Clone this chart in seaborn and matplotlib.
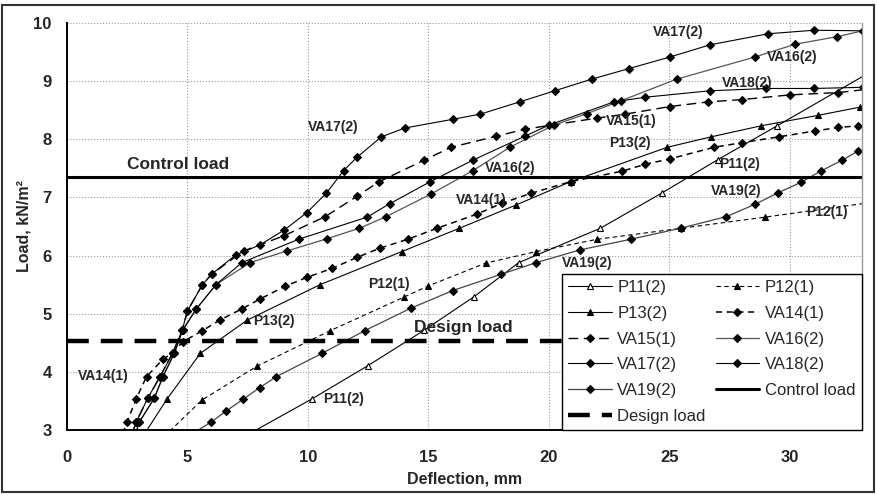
"""Load-deflection curves of the test panels, with control and design load levels."""

import matplotlib
matplotlib.use("Agg")
import matplotlib.pyplot as plt
from matplotlib.patches import Rectangle
import seaborn as sns

# deflection (mm) / load (kN/m2)
P11_X = [7.0, 10.17, 12.49, 14.83, 16.88, 18.75, 22.14, 24.71, 27.02, 29.48, 34.0]
P11_Y = [2.81, 3.54, 4.11, 4.72, 5.29, 5.88, 6.47, 7.08, 7.65, 8.23, 9.31]

P12_X = [3.8, 5.6, 7.88, 10.92, 14.0, 15.0, 17.37, 19.48, 22.0, 25.5, 28.96, 33.5]
P12_Y = [2.8, 3.52, 4.10, 4.71, 5.29, 5.48, 5.87, 6.07, 6.28, 6.47, 6.66, 6.92]

P13_X = [3.0, 4.14, 5.53, 7.47, 10.5, 13.9, 16.29, 18.64, 20.9, 24.91, 26.74, 28.82, 31.19, 32.92]
P13_Y = [2.8, 3.53, 4.32, 4.89, 5.50, 6.07, 6.47, 6.87, 7.27, 7.86, 8.04, 8.23, 8.41, 8.55]

VA14_X = [2.0, 2.49, 2.87, 3.3, 3.98, 4.39, 4.8, 5.62, 6.33, 7.28, 7.99, 9.03, 9.98, 11.0,
          12.04, 13.0, 14.14, 15.36, 17.0, 18.06, 19.26, 20.9, 23.04, 24.01, 25.02, 26.85,
          28.03, 29.55, 31.03, 32.02, 32.85]
VA14_Y = [2.6, 3.14, 3.54, 3.92, 4.22, 4.33, 4.52, 4.71, 4.89, 5.09, 5.25, 5.47, 5.63, 5.78,
          5.97, 6.13, 6.28, 6.47, 6.71, 6.90, 7.07, 7.27, 7.45, 7.57, 7.66, 7.86,
          7.94, 8.04, 8.14, 8.20, 8.23]

VA15_X = [2.55, 2.87, 3.35, 3.86, 4.39, 4.78, 5.0, 5.62, 6.0, 7.33, 9.0, 10.72, 12.04, 12.96,
          14.83, 15.94, 17.82, 19.0, 21.98, 23.18, 25.02, 26.62, 28.03, 30.01, 32.02, 33.3]
VA15_Y = [2.75, 3.14, 3.55, 3.92, 4.33, 4.72, 5.05, 5.50, 5.68, 6.08, 6.34, 6.67, 7.02, 7.27,
          7.64, 7.86, 8.05, 8.17, 8.36, 8.43, 8.56, 8.64, 8.68, 8.76, 8.80, 8.86]

VA16_X = [2.7, 3.0, 3.62, 3.98, 4.45, 4.8, 5.36, 6.18, 7.6, 9.13, 10.79, 12.14, 13.25, 15.12,
          16.85, 18.38, 20.2, 21.59, 23.0, 25.3, 28.55, 30.22, 31.97, 33.02]
VA16_Y = [2.75, 3.14, 3.55, 3.92, 4.32, 4.72, 5.08, 5.50, 5.88, 6.08, 6.29, 6.47, 6.67, 7.06,
          7.46, 7.86, 8.24, 8.44, 8.66, 9.03, 9.41, 9.63, 9.76, 9.86]

VA17_X = [2.55, 2.87, 3.35, 3.86, 4.39, 4.78, 5.0, 5.62, 6.0, 7.0, 7.99, 9.02, 9.96, 10.76,
          11.48, 12.04, 13.05, 14.01, 16.0, 17.16, 18.79, 20.24, 21.78, 23.31, 25.02, 26.69,
          29.11, 31.0, 33.04]
VA17_Y = [2.75, 3.14, 3.55, 3.92, 4.33, 4.72, 5.05, 5.50, 5.68, 6.01, 6.18, 6.44, 6.74, 7.07,
          7.46, 7.69, 8.04, 8.19, 8.34, 8.43, 8.64, 8.83, 9.03, 9.21, 9.41, 9.62,
          9.81, 9.87, 9.86]

VA18_X = [2.7, 3.0, 3.62, 3.98, 4.45, 4.8, 5.36, 6.18, 7.26, 9.61, 12.45, 13.39, 15.08, 16.85,
          19.0, 20.0, 22.7, 24.01, 26.67, 29.03, 31.0, 33.02]
VA18_Y = [2.75, 3.14, 3.55, 3.92, 4.32, 4.72, 5.08, 5.50, 5.88, 6.28, 6.66, 6.89, 7.27, 7.64,
          8.05, 8.24, 8.64, 8.72, 8.83, 8.87, 8.87, 8.89]

VA19_X = [5.0, 5.98, 6.6, 7.3, 7.99, 8.68, 10.58, 12.35, 14.29, 16.01, 18.02, 19.48, 21.31,
          23.39, 25.47, 27.37, 28.55, 29.52, 30.47, 31.28, 32.18, 32.85]
VA19_Y = [2.89, 3.14, 3.33, 3.53, 3.73, 3.92, 4.32, 4.71, 5.10, 5.40, 5.68, 5.88, 6.10,
          6.28, 6.47, 6.67, 6.88, 7.08, 7.26, 7.45, 7.64, 7.80]

CONTROL_LOAD = 7.35
DESIGN_LOAD = 4.53

# in-plot labels: (text, x, y)
LABELS = [
    ("VA17(2)", 11.05, 8.21), ("VA17(2)", 25.38, 9.84),
    ("VA16(2)", 18.4, 7.5), ("VA16(2)", 30.08, 9.41),
    ("VA18(2)", 28.25, 8.97), ("VA15(1)", 23.43, 8.31),
    ("VA14(1)", 17.2, 6.96), ("VA14(1)", 1.51, 3.93),
    ("P13(2)", 23.37, 7.93), ("P13(2)", 8.58, 4.88),
    ("P11(2)", 27.9, 7.57), ("P11(2)", 11.47, 3.54),
    ("VA19(2)", 27.77, 7.11), ("VA19(2)", 21.6, 5.88),
    ("P12(1)", 31.56, 6.75), ("P12(1)", 13.38, 5.51),
]

SERIES = [
    # name, x, y, marker, filled, dashes, line width, line colour
    ("P11(2)", P11_X, P11_Y, "^", False, None, 0.8, "black"),
    ("P12(1)", P12_X, P12_Y, "^", True, (4, 3), 0.8, "black"),
    ("P13(2)", P13_X, P13_Y, "^", True, None, 0.8, "black"),
    ("VA14(1)", VA14_X, VA14_Y, "D", True, (4, 3), 1.1, "black"),
    ("VA15(1)", VA15_X, VA15_Y, "D", True, (7, 4), 1.0, "black"),
    ("VA16(2)", VA16_X, VA16_Y, "D", True, None, 0.9, "#555555"),
    ("VA17(2)", VA17_X, VA17_Y, "D", True, None, 0.8, "black"),
    ("VA18(2)", VA18_X, VA18_Y, "D", True, None, 0.8, "black"),
    ("VA19(2)", VA19_X, VA19_Y, "D", True, None, 0.9, "#444444"),
]

sns.set_style("white")
plt.rcParams["font.family"] = ["Liberation Sans", "DejaVu Sans"]

fig = plt.figure(figsize=(8.77, 4.95), dpi=100)
ax = fig.add_axes([0.0764, 0.1307, 0.9066, 0.8235])

handles = {}
for name, xs, ys, marker, filled, dashes, lw, lc in SERIES:
    sns.lineplot(
        x=xs, y=ys, ax=ax, sort=False, estimator=None,
        color=lc, linewidth=lw,
        marker=marker, markersize=5 if marker == "^" else 3.9,
        markerfacecolor="black" if filled else "white",
        markeredgecolor="black", markeredgewidth=0.8,
    )
    line = ax.get_lines()[-1]
    if dashes:
        line.set_dashes(dashes)
    line.set_label(name)
    handles[name] = line

handles["Control load"] = ax.axhline(CONTROL_LOAD, color="black", lw=2.2, label="Control load")
handles["Design load"] = ax.axhline(DESIGN_LOAD, color="black", lw=3.2,
                                    linestyle=(0, (4.9, 2.7)), label="Design load")

for txt, x, y in LABELS:
    ax.text(x, y, txt, ha="center", va="center", fontsize=10, fontweight="bold")
ax.text(4.6, 7.56, "Control load", ha="center", va="center", fontsize=12.5, fontweight="bold")
ax.text(16.45, 4.77, "Design load", ha="center", va="center", fontsize=12.5, fontweight="bold")

ax.set_xlim(0, 33)
ax.set_ylim(3, 10)
ax.set_xticks(range(0, 31, 5))
ax.set_yticks(range(3, 11))
ax.grid(True, linestyle=":", color="#9a9a9a", linewidth=0.8)
ax.tick_params(axis="both", direction="out", length=4, width=1, color="black",
               labelsize=12)
ax.tick_params(axis="x", pad=10)
ax.tick_params(axis="y", pad=7)
for lab in ax.get_xticklabels() + ax.get_yticklabels():
    lab.set_fontweight("bold")

ax.spines["top"].set_visible(False)
ax.spines["right"].set_color("#999999")
ax.spines["right"].set_linewidth(1.0)
for side in ("left", "bottom"):
    ax.spines[side].set_color("black")
    ax.spines[side].set_linewidth(1.4)

ax.set_xlabel("Deflection, mm", fontsize=11.5, fontweight="bold", labelpad=5)
ax.set_ylabel("Load, kN/m²", fontsize=11.5, fontweight="bold", labelpad=1)

# matplotlib fills columns first, so order the handles to read row by row
order = ["P11(2)", "P13(2)", "VA15(1)", "VA17(2)", "VA19(2)", "Design load",
         "P12(1)", "VA14(1)", "VA16(2)", "VA18(2)", "Control load"]
leg = ax.legend([handles[n] for n in order], order, ncol=2, loc="lower right",
                bbox_to_anchor=(1.0, 0.0), borderaxespad=0, fontsize=12,
                frameon=True, fancybox=False, framealpha=1, edgecolor="black",
                handlelength=2.6, handletextpad=0.35, columnspacing=0.6,
                labelspacing=0.64, borderpad=0.4)
leg.get_frame().set_linewidth(1.0)

fig.patches.append(Rectangle((0.0023, 0.006), 0.994, 0.984, transform=fig.transFigure,
                             fill=False, lw=1.5, ec="#333333"))

fig.savefig("out.png", dpi=100)
